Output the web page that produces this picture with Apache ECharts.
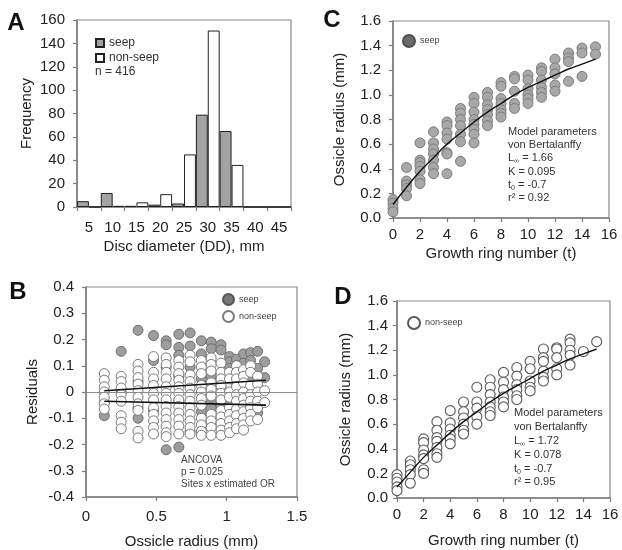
<!DOCTYPE html>
<html>
<head>
<meta charset="utf-8">
<script src="https://cdn.jsdelivr.net/npm/echarts@6/dist/echarts.min.js"></script>
<style>
html,body{margin:0;padding:0;background:#fff;}
#c{width:622px;height:550px;}
</style>
</head>
<body>
<div id="c"></div>
<script>
// ---------- Panel A: histogram ----------
const aCategories = ['5','10','15','20','25','30','35','40','45'];
const aSeep = [5, 12, 1, 2, 3, 79, 65, 0, 0];
const aNonSeep = [0, 1, 4, 11, 45, 151, 36, 0, 0];

// ---------- Panel B: residuals ----------
const bColumnX = [0.13, 0.25, 0.37, 0.48, 0.57, 0.66, 0.74, 0.82, 0.89, 0.96, 1.02, 1.07, 1.12, 1.17, 1.22, 1.27];
const bSeepByCol = [
  [-0.09, -0.04],
  [0.155, 0.0],
  [0.235, 0.04, -0.1, -0.06],
  [0.215, 0.12, -0.07],
  [0.195, 0.18, 0.095, -0.22],
  [0.22, 0.17, 0.14, 0.06, -0.035, -0.21],
  [0.225, 0.175, 0.095, -0.15],
  [0.195, 0.145, 0.05, -0.075],
  [0.19, 0.165, 0.06, -0.04, -0.06],
  [0.18, 0.16, 0.02, -0.05],
  [0.135, 0.115, 0.09, -0.04, -0.095],
  [0.125, 0.1, 0.03, -0.05],
  [0.145, 0.11, 0.065, -0.075],
  [0.15, 0.12, 0.045, -0.02],
  [0.155, 0.09, 0.06, -0.08],
  [0.115, 0.055]
];
const bNonSeepByCol = [
  [0.07, 0.045, 0.02, 0.0, -0.02, -0.045, -0.065],
  [0.06, 0.04, 0.015, -0.01, -0.035, -0.09, -0.115, -0.14],
  [0.105, 0.08, 0.055, 0.03, 0.005, -0.02, -0.045, -0.07, -0.15, -0.175],
  [0.135, 0.075, 0.05, 0.025, -0.005, -0.03, -0.06, -0.085, -0.11, -0.135, -0.16],
  [0.13, 0.105, 0.075, 0.05, 0.02, -0.005, -0.03, -0.055, -0.08, -0.105, -0.13, -0.155, -0.17],
  [0.12, 0.095, 0.07, 0.045, 0.02, -0.005, -0.03, -0.055, -0.08, -0.105, -0.13, -0.16],
  [0.14, 0.115, 0.065, 0.04, 0.015, -0.01, -0.035, -0.06, -0.085, -0.11, -0.135, -0.16],
  [0.12, 0.095, 0.07, 0.025, 0.0, -0.025, -0.05, -0.1, -0.125, -0.15, -0.165],
  [0.13, 0.105, 0.08, 0.035, 0.01, -0.015, -0.085, -0.11, -0.135, -0.165],
  [0.11, 0.075, 0.05, 0.025, -0.005, -0.03, -0.07, -0.095, -0.12, -0.145, -0.165],
  [0.075, 0.05, 0.0, -0.02, -0.06, -0.085, -0.11, -0.135, -0.155],
  [0.1, 0.075, 0.05, 0.02, -0.01, -0.035, -0.065, -0.09, -0.12, -0.14],
  [0.085, 0.06, 0.035, 0.0, -0.025, -0.05, -0.075, -0.1, -0.125, -0.145],
  [0.1, 0.075, 0.025, -0.01, -0.035, -0.06, -0.085, -0.11],
  [0.06, 0.03, 0.0, -0.035, -0.06, -0.105],
  [0.005, -0.04]
];
const bSeepFit = [[0.13, 0.005], [1.28, 0.045]];
const bNonSeepFit = [[0.13, -0.035], [1.28, -0.05]];

// ---------- Panels C & D: growth ----------
const ringNumbers = [0,1,2,3,4,5,6,7,8,9,10,11,12,13,14,15];
const cSeepByRing = [
  [0.15, 0.12, 0.08, 0.05],
  [0.41, 0.30, 0.27, 0.24, 0.18],
  [0.61, 0.47, 0.45, 0.42, 0.38, 0.31, 0.28],
  [0.70, 0.61, 0.56, 0.52, 0.47, 0.41, 0.36],
  [0.78, 0.75, 0.69, 0.64, 0.53, 0.52, 0.36],
  [0.89, 0.85, 0.80, 0.75, 0.68, 0.62, 0.46],
  [0.98, 0.93, 0.86, 0.80, 0.76, 0.72, 0.68, 0.61],
  [1.02, 0.98, 0.92, 0.88, 0.84, 0.79, 0.75],
  [1.10, 1.07, 0.97, 0.93, 0.88, 0.85, 0.82],
  [1.15, 1.13, 1.03, 0.93, 0.89],
  [1.16, 1.12, 1.05, 1.00, 0.97, 0.93],
  [1.22, 1.19, 1.12, 1.06, 1.02, 0.98],
  [1.29, 1.22, 1.17, 1.08, 1.03],
  [1.34, 1.30, 1.27, 1.11],
  [1.38, 1.34, 1.15],
  [1.39, 1.33]
];
const cFit = [0.11, 0.25, 0.38, 0.49, 0.60, 0.69, 0.78, 0.86, 0.93, 1.00, 1.06, 1.11, 1.16, 1.21, 1.25, 1.29];

const dNonSeepByRing = [
  [0.19, 0.16, 0.13, 0.09, 0.06],
  [0.30, 0.27, 0.23, 0.19, 0.12],
  [0.48, 0.45, 0.39, 0.35, 0.32, 0.23, 0.20],
  [0.62, 0.55, 0.49, 0.46, 0.41, 0.36, 0.33],
  [0.71, 0.61, 0.56, 0.51, 0.48, 0.44],
  [0.78, 0.70, 0.65, 0.60, 0.55, 0.52],
  [0.90, 0.78, 0.73, 0.66, 0.60],
  [0.96, 0.90, 0.84, 0.78, 0.74, 0.70, 0.67],
  [1.02, 0.94, 0.88, 0.82, 0.78, 0.74],
  [1.06, 0.99, 0.92, 0.88, 0.83, 0.80],
  [1.11, 1.05, 0.95, 0.90, 0.87],
  [1.21, 1.14, 1.11, 1.03, 0.98, 0.95],
  [1.22, 1.21, 1.14, 1.05, 1.00],
  [1.29, 1.26, 1.20, 1.16, 1.08],
  [1.19],
  [1.27]
];
const dFit = [0.09, 0.21, 0.33, 0.43, 0.53, 0.62, 0.70, 0.78, 0.85, 0.91, 0.97, 1.03, 1.08, 1.13, 1.17, 1.21];

// ---------- build ----------
const FONT = 'Liberation Sans, Arial, sans-serif';
const AX = '#7d7d7d';
function pairs(xs, groups){ const out=[]; groups.forEach((g,i)=>g.forEach(v=>out.push([xs[i], v]))); return out; }
function line(xs, ys){ return xs.map((x,i)=>[x, ys[i]]); }

const axisCommon = (extra) => Object.assign({
  axisLine:{show:true, onZero:false, lineStyle:{color:AX, width:1.5}},
  axisTick:{show:true, length:4, lineStyle:{color:AX, width:1.2}},
  splitLine:{show:false},
  axisLabel:{fontFamily:FONT, fontSize:15, color:'#222'},
  nameLocation:'middle',
  nameTextStyle:{fontFamily:FONT, fontSize:15, color:'#222'}
}, extra);

const legendCommon = {
  orient:'vertical', selectedMode:false, formatter: n => n.split('|')[1],
  textStyle:{fontFamily:FONT, fontSize:9, color:'#444'}
};

const option = {
  animation:false,
  backgroundColor:'#fff',
  grid:[
    {left:77, top:20, width:214, height:187, show:true, borderColor:'#8a8a8a', borderWidth:1.2},
    {left:86, top:287, width:211, height:211, show:true, borderColor:'#8a8a8a', borderWidth:1.2},
    {left:393, top:21, width:216, height:197, show:true, borderColor:'#8a8a8a', borderWidth:1.2},
    {left:397, top:301, width:213, height:197, show:true, borderColor:'#8a8a8a', borderWidth:1.2}
  ],
  xAxis:[
    axisCommon({gridIndex:0, type:'category', data:aCategories, name:'Disc diameter (DD), mm', nameGap:32,
      axisLabel:{fontFamily:FONT, fontSize:15, color:'#222', margin:13, interval:0}}),
    axisCommon({gridIndex:1, type:'value', min:0, max:1.5, interval:0.5, name:'Ossicle radius (mm)', nameGap:37,
      axisLabel:{fontFamily:FONT, fontSize:15, color:'#222', margin:12}}),
    axisCommon({gridIndex:2, type:'value', min:0, max:16, interval:2, name:'Growth ring number (t)', nameGap:28,
      axisLabel:{fontFamily:FONT, fontSize:15, color:'#222', margin:9}}),
    axisCommon({gridIndex:3, type:'value', min:0, max:16, interval:2, name:'Growth ring number (t)', nameGap:35,
      axisLabel:{fontFamily:FONT, fontSize:15, color:'#222', margin:9}})
  ],
  yAxis:[
    axisCommon({gridIndex:0, type:'value', min:0, max:160, interval:20, name:'Frequency', nameGap:43,
      axisLabel:{fontFamily:FONT, fontSize:15, color:'#222', margin:12}}),
    axisCommon({gridIndex:1, type:'value', min:-0.4, max:0.4, interval:0.1, name:'Residuals', nameGap:46,
      axisLabel:{fontFamily:FONT, fontSize:15, color:'#222', margin:12}}),
    axisCommon({gridIndex:2, type:'value', min:0, max:1.6, interval:0.2, name:'Ossicle radius (mm)', nameGap:46,
      axisLabel:{fontFamily:FONT, fontSize:15, color:'#222', margin:12, formatter:v=>v.toFixed(1)}}),
    axisCommon({gridIndex:3, type:'value', min:0, max:1.6, interval:0.2, name:'Ossicle radius (mm)', nameGap:44,
      axisLabel:{fontFamily:FONT, fontSize:15, color:'#222', margin:9, formatter:v=>v.toFixed(1)}})
  ],
  legend:[
    Object.assign({}, legendCommon, {left:90, top:32, icon:'rect', itemWidth:8, itemHeight:8, itemGap:3,
      data:['A|seep','A|non-seep'], textStyle:{fontFamily:FONT, fontSize:12, color:'#333', lineHeight:12}}),
    Object.assign({}, legendCommon, {left:217, top:288, icon:'circle', itemWidth:11, itemHeight:11, itemGap:4,
      data:[{name:'B|seep', itemStyle:{color:'#777', borderColor:'#555'}}, 'B|non-seep']}),
    Object.assign({}, legendCommon, {left:397, top:29, icon:'circle', itemWidth:12, itemHeight:12,
      data:[{name:'C|seep', itemStyle:{color:'#6b6b6b', borderColor:'#505050'}}]}),
    Object.assign({}, legendCommon, {left:402, top:311, icon:'circle', itemWidth:12, itemHeight:12,
      data:['D|non-seep']})
  ],
  series:[
    {name:'A|seep', type:'bar', xAxisIndex:0, yAxisIndex:0, data:aSeep, barGap:'0%', barCategoryGap:'0%',
      itemStyle:{color:'#a3a3a3', borderColor:'#222', borderWidth:1}},
    {name:'A|non-seep', type:'bar', xAxisIndex:0, yAxisIndex:0, data:aNonSeep, barGap:'0%', barCategoryGap:'0%',
      itemStyle:{color:'#fff', borderColor:'#222', borderWidth:1}},

    {name:'B|zero', type:'line', xAxisIndex:1, yAxisIndex:1, data:[], z:1,
      markLine:{silent:true, symbol:'none', label:{show:false}, data:[{yAxis:0}],
        lineStyle:{color:'#8a8a8a', type:'solid', width:1.2}}},
    {name:'B|seep', type:'scatter', xAxisIndex:1, yAxisIndex:1, data:pairs(bColumnX, bSeepByCol), symbolSize:10, z:2,
      itemStyle:{color:'#9d9d9d', borderColor:'#6e6e6e', borderWidth:1, opacity:1}},
    {name:'B|non-seep', type:'scatter', xAxisIndex:1, yAxisIndex:1, data:pairs(bColumnX, bNonSeepByCol), symbolSize:10, z:3,
      itemStyle:{color:'#fff', borderColor:'#7a7a7a', borderWidth:1, opacity:1}},
    {name:'B|fit seep', type:'line', xAxisIndex:1, yAxisIndex:1, data:bSeepFit, symbol:'none', z:5,
      lineStyle:{color:'#111', width:1.6}},
    {name:'B|fit non-seep', type:'line', xAxisIndex:1, yAxisIndex:1, data:bNonSeepFit, symbol:'none', z:5,
      lineStyle:{color:'#111', width:1.6}},

    {name:'C|seep', type:'scatter', xAxisIndex:2, yAxisIndex:2, data:pairs(ringNumbers, cSeepByRing), symbolSize:10, z:2,
      itemStyle:{color:'#a8a8a8', borderColor:'#7c7c7c', borderWidth:1, opacity:1}},
    {name:'C|fit', type:'line', xAxisIndex:2, yAxisIndex:2, data:line(ringNumbers, cFit), symbol:'none', smooth:true, z:5,
      lineStyle:{color:'#111', width:1.4}},

    {name:'D|non-seep', type:'scatter', xAxisIndex:3, yAxisIndex:3, data:pairs(ringNumbers, dNonSeepByRing), symbolSize:10, z:2,
      itemStyle:{color:'#fff', borderColor:'#5a5a5a', borderWidth:1.1, opacity:1}},
    {name:'D|fit', type:'line', xAxisIndex:3, yAxisIndex:3, data:line(ringNumbers, dFit), symbol:'none', smooth:true, z:5,
      lineStyle:{color:'#111', width:1.4}}
  ],
  graphic:[
    {type:'text', x:16, y:23, style:{text:'A', font:'bold 24px '+FONT, fill:'#111', align:'center', verticalAlign:'middle'}},
    {type:'text', x:18, y:292, style:{text:'B', font:'bold 24px '+FONT, fill:'#111', align:'center', verticalAlign:'middle'}},
    {type:'text', x:332, y:20, style:{text:'C', font:'bold 24px '+FONT, fill:'#111', align:'center', verticalAlign:'middle'}},
    {type:'text', x:343, y:297, style:{text:'D', font:'bold 24px '+FONT, fill:'#111', align:'center', verticalAlign:'middle'}},
    {type:'text', x:95, y:72, style:{text:'n = 416', font:'12px '+FONT, fill:'#333', verticalAlign:'middle'}},
    {type:'text', x:181, y:454, style:{text:'ANCOVA\np = 0.025\nSites x estimated OR', font:'10px '+FONT, fill:'#444', lineHeight:12, verticalAlign:'top'}},
    {type:'text', x:508, y:125, style:{
      text:'Model parameters\nvon Bertalanffy\nL{s|∞} = 1.66\nK = 0.095\nt{s|0} = -0.7\nr² = 0.92',
      font:'11px '+FONT, fill:'#333', lineHeight:13.3, verticalAlign:'top',
      rich:{s:{fontSize:7, fontFamily:FONT, fill:'#333', verticalAlign:'bottom', lineHeight:13.3}}}},
    {type:'text', x:514, y:406, style:{
      text:'Model parameters\nvon Bertalanffy\nL{s|∞} = 1.72\nK = 0.078\nt{s|0} = -0.7\nr² = 0.95',
      font:'11px '+FONT, fill:'#333', lineHeight:13.9, verticalAlign:'top',
      rich:{s:{fontSize:7, fontFamily:FONT, fill:'#333', verticalAlign:'bottom', lineHeight:13.9}}}}
  ]
};

const chart = echarts.init(document.getElementById('c'), null, {renderer:'canvas', width:622, height:550});
chart.setOption(option);
</script>
</body>
</html>
